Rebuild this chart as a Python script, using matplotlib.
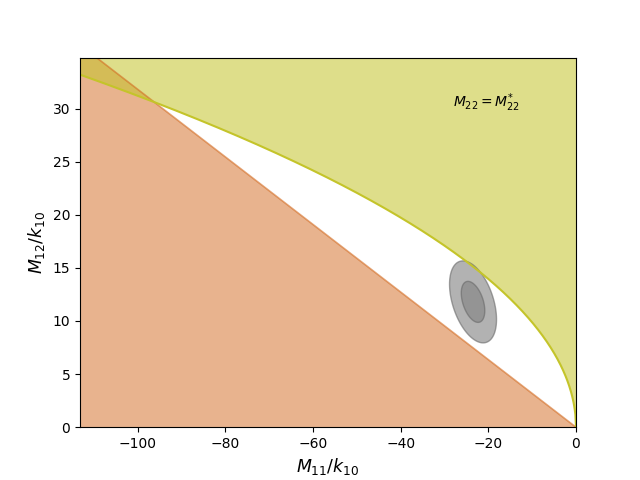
import numpy as np
import matplotlib
matplotlib.use('Agg')
import matplotlib.pyplot as plt

# region limits
x_range = [-113.2, 0.0]
y_top = 34.8
line_slope = -0.318      # orange boundary: M12 = slope * M11
curve_coef = 3.12        # yellow boundary: M12 = coef * sqrt(-M11)

# the grey confidence blob (centre, std devs, correlation)
blob_center = [-23.5, 11.8]
blob_std = [2.68, 1.93]
blob_corr = -0.43
blob_levels = [2, 1]

x = np.linspace(x_range[0], x_range[1], 800)
y_line = line_slope * x
y_curve = curve_coef * np.sqrt(-x)

fig, ax = plt.subplots(figsize=(6.4, 4.8))

ax.fill_between(x, 0, y_line, color='chocolate', alpha=0.5, lw=0)
ax.plot(x, y_line, color='chocolate', alpha=0.6, lw=1.2)
ax.fill_between(x, y_curve, y_top + 5, color='#c4c42a', alpha=0.55, lw=0)
ax.plot(x, y_curve, color='#c4c42a', lw=1.5)

# ellipses from covariance
cov = np.array([[blob_std[0] ** 2, blob_corr * blob_std[0] * blob_std[1]],
                [blob_corr * blob_std[0] * blob_std[1], blob_std[1] ** 2]])
vals, vecs = np.linalg.eigh(cov)
t = np.linspace(0, 2 * np.pi, 200)
circle = np.vstack([np.cos(t), np.sin(t)])
for n in blob_levels:
    pts = vecs @ (np.sqrt(vals)[:, None] * circle) * n
    ax.fill(blob_center[0] + pts[0], blob_center[1] + pts[1],
            facecolor='gray', edgecolor='dimgray', alpha=0.6, lw=1)

ax.text(-20.3, 30.6, r'$M_{22}=M_{22}^{*}$', ha='center', va='center', fontsize=10)

ax.set_xlim(x_range)
ax.set_ylim(0, y_top)
ax.set_xlabel(r'$M_{11}/k_{10}$', fontsize=12.5)
ax.set_ylabel(r'$M_{12}/k_{10}$', fontsize=12.5)

plt.savefig('out.png', dpi=100)
